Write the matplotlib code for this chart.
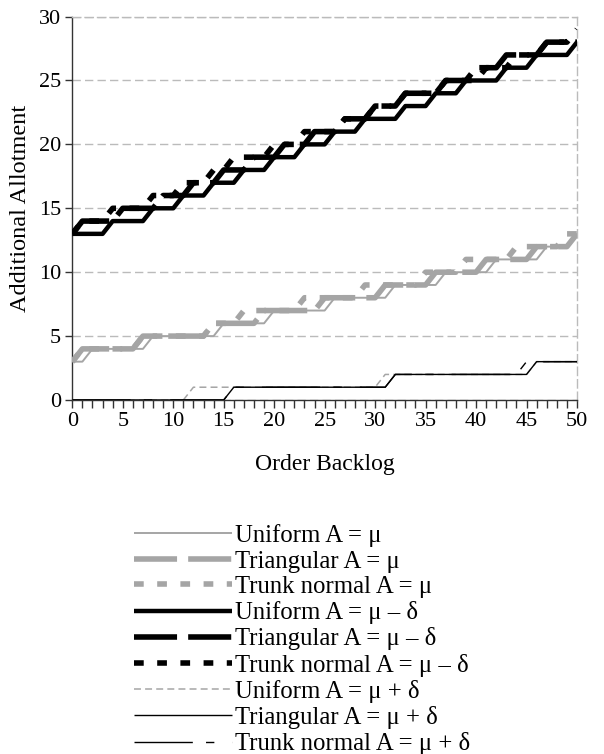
import matplotlib
matplotlib.use("Agg")
import matplotlib.pyplot as plt
from matplotlib.ticker import MultipleLocator

plt.rcParams['font.family'] = ['Liberation Serif', 'DejaVu Serif']
plt.rcParams['lines.scale_dashes'] = False

backlog = list(range(51))

# A = mu
uniform_mu = [3, 3, 4, 4, 4, 4, 4, 4, 5, 5, 5, 5, 5, 5, 5, 6, 6, 6, 6, 6,
              7, 7, 7, 7, 7, 7, 8, 8, 8, 8, 8, 8, 9, 9, 9, 9, 9, 10, 10, 10,
              10, 10, 11, 11, 11, 11, 11, 12, 12, 12, 13]
triangular_mu = [3, 4, 4, 4, 4, 4, 4, 5, 5, 5, 5, 5, 5, 5, 6, 6, 6, 6, 6, 7,
                 7, 7, 7, 7, 7, 8, 8, 8, 8, 8, 8, 9, 9, 9, 9, 9, 10, 10, 10, 10,
                 10, 11, 11, 11, 11, 11, 12, 12, 12, 12, 13]
trunk_mu = [3, 4, 4, 4, 4, 4, 4, 5, 5, 5, 5, 5, 5, 5, 6, 6, 6, 7, 7, 7,
            7, 7, 7, 8, 8, 8, 8, 8, 8, 9, 9, 9, 9, 9, 9, 10, 10, 10, 10, 11,
            11, 11, 11, 11, 12, 12, 12, 12, 12, 13, 13]

# A = mu - delta
uniform_minus = [13, 13, 13, 13, 14, 14, 14, 14, 15, 15, 15, 16, 16, 16, 17, 17, 17, 18, 18, 18,
                 19, 19, 19, 20, 20, 20, 21, 21, 21, 22, 22, 22, 22, 23, 23, 23, 24, 24, 24, 25,
                 25, 25, 25, 26, 26, 26, 27, 27, 27, 27, 28]
triangular_minus = [13, 14, 14, 14, 14, 15, 15, 15, 15, 16, 16, 16, 17, 17, 17, 18, 18, 18, 19, 19,
                    19, 20, 20, 20, 21, 21, 21, 22, 22, 22, 23, 23, 23, 24, 24, 24, 24, 25, 25, 25,
                    26, 26, 26, 27, 27, 27, 27, 28, 28, 28, 28]
trunk_minus = [13, 14, 14, 14, 15, 15, 15, 15, 16, 16, 16, 17, 17, 17, 18, 18, 19, 19, 19, 19,
               20, 20, 20, 21, 21, 21, 21, 22, 22, 22, 23, 23, 23, 24, 24, 24, 24, 25, 25, 25,
               25, 26, 26, 26, 27, 27, 27, 28, 28, 28, 29]

# A = mu + delta
uniform_plus = [0, 0, 0, 0, 0, 0, 0, 0, 0, 0, 0, 0, 1, 1, 1, 1, 1, 1, 1, 1,
                1, 1, 1, 1, 1, 1, 1, 1, 1, 1, 1, 2, 2, 2, 2, 2, 2, 2, 2, 2,
                2, 2, 2, 2, 2, 2, 3, 3, 3, 3, 3]
triangular_plus = [0, 0, 0, 0, 0, 0, 0, 0, 0, 0, 0, 0, 0, 0, 0, 0, 1, 1, 1, 1,
                   1, 1, 1, 1, 1, 1, 1, 1, 1, 1, 1, 1, 2, 2, 2, 2, 2, 2, 2, 2,
                   2, 2, 2, 2, 2, 2, 3, 3, 3, 3, 3]
trunk_plus = [0, 0, 0, 0, 0, 0, 0, 0, 0, 0, 0, 0, 0, 0, 0, 0, 1, 1, 1, 1,
              1, 1, 1, 1, 1, 1, 1, 1, 1, 1, 1, 1, 2, 2, 2, 2, 2, 2, 2, 2,
              2, 2, 2, 2, 2, 3, 3, 3, 3, 3, 3]

labels = ["Uniform A = \u03bc", "Triangular A = \u03bc", "Trunk normal A = \u03bc",
          "Uniform A = \u03bc \u2013 \u03b4", "Triangular A = \u03bc \u2013 \u03b4",
          "Trunk normal A = \u03bc \u2013 \u03b4",
          "Uniform A = \u03bc + \u03b4", "Triangular A = \u03bc + \u03b4",
          "Trunk normal A = \u03bc + \u03b4"]

grey = '#a5a5a5'

fig = plt.figure(figsize=(6.04, 7.54), dpi=100)
ax = fig.add_axes([0.1197, 0.4695, 0.8356, 0.5085])

series = [uniform_mu, triangular_mu, trunk_mu,
          uniform_minus, triangular_minus, trunk_minus,
          uniform_plus, triangular_plus, trunk_plus]
styles = [
    dict(color=grey, lw=1.4, zorder=6),
    dict(color=grey, lw=4, dashes=(31, 8), zorder=4),
    dict(color=grey, lw=4, dashes=(7, 9.7), zorder=5),
    dict(color='black', lw=3.2, zorder=4),
    dict(color='black', lw=4, dashes=(31, 8), zorder=5),
    dict(color='black', lw=4, dashes=(7, 9.7), zorder=5),
    dict(color=grey, lw=1.1, dashes=(5, 3), zorder=6),
    dict(color='black', lw=1.0, zorder=6),
    dict(color='black', lw=1.0, dashes=(42, 9.5, 6, 13), zorder=6),
]

handles = []
for vals, lab, st in zip(series, labels, styles):
    h, = ax.plot(backlog, vals, label=lab, solid_capstyle='butt', dash_capstyle='butt', **st)
    handles.append(h)

ax.set_xlim(0, 50)
ax.set_ylim(0, 30)
ax.xaxis.set_major_locator(MultipleLocator(5))
ax.xaxis.set_minor_locator(MultipleLocator(1))
ax.yaxis.set_major_locator(MultipleLocator(5))
ax.tick_params(axis='both', which='both', direction='out', length=5, width=1,
               color='#333333', labelsize=16, pad=3)
ax.tick_params(axis='x', which='both', length=6)

ax.yaxis.grid(True, color='#bbbbbb', lw=1, dashes=(6, 3))
ax.set_axisbelow(True)
for side in ['left', 'bottom']:
    ax.spines[side].set_color('#333333')
    ax.spines[side].set_linewidth(1)
for side in ['top', 'right']:
    ax.spines[side].set_color('#bbbbbb')
    ax.spines[side].set_linestyle((0, (6, 3)))
    ax.spines[side].set_linewidth(1)

ax.set_xlabel("Order Backlog", fontsize=17, labelpad=16)
ax.set_ylabel("Additional Allotment", fontsize=17.5, labelpad=6)

fig.legend(handles, labels, loc='upper center', bbox_to_anchor=(0.5, 1 - 524 / 754),
           frameon=False, fontsize=17.8, handlelength=3.97, handletextpad=0.1,
           labelspacing=0.13, borderpad=0, borderaxespad=0)

fig.savefig("out.png", dpi=100)
